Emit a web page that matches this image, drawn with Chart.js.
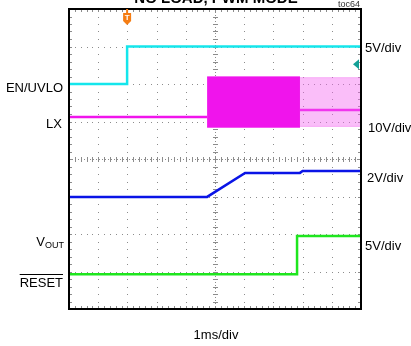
<!DOCTYPE html>
<html>
<head>
<meta charset="utf-8">
<script src="https://cdn.jsdelivr.net/npm/chart.js@4"></script>
<style>
  html, body { margin: 0; padding: 0; background: #fff; }
  #wrap { width: 411px; height: 346px; }
</style>
</head>
<body>
<div id="wrap"><canvas id="scope" width="411" height="346"></canvas></div>
<script>
// time axis: 1ms/div, 10 divisions; vertical: 8 divisions
const xDivs = [0, 10];
const yDivs = [0, 8];

// EN/UVLO (cyan)
const enTime = [0, 1.99, 1.99, 10];
const enLevel = [6.0, 6.0, 7.0, 7.0];

// LX (magenta) baseline before and after the burst
const lxTime = [0, 4.73];
const lxLevel = [5.12, 5.12];
const lxTailTime = [7.91, 10];
const lxTailLevel = [5.31, 5.31];
// LX switching envelopes
const burstTime = [4.73, 7.91];
const burstHigh = [6.19, 6.19];
const burstLow = [4.85, 4.85];
const tailHigh = [6.17, 6.17];
const tailLow = [4.87, 4.87];

// soft-start ramp (blue)
const rampTime = [0, 4.73, 6.03, 7.91, 8.0, 10];
const rampLevel = [2.99, 2.99, 3.63, 3.63, 3.68, 3.68];

// VOUT / RESET (green)
const resetTime = [0, 7.81, 7.81, 10];
const resetLevel = [0.93, 0.93, 1.95, 1.95];

// markers
const triggerTime = 1.99;
const triggerLevel = 6.53;

const colors = {
    cyan: '#14e6ec',
    magenta: '#f014ec',
    magentaLight: 'rgba(244, 100, 240, 0.42)',
    blue: '#0a14e6',
    green: '#1ee61e',
    grid: '#8c8c8c',
    orange: '#f57d14',
    teal: '#14a096'
};

const pts = (xs, ys) => xs.map((x, i) => ({ x: x, y: ys[i] }));

const trace = (data, color, width) => ({
    data: data,
    borderColor: color,
    backgroundColor: color,
    borderWidth: width,
    pointRadius: 0,
    tension: 0,
    fill: false
});

const scopeDecor = {
    id: 'scopeDecor',
    beforeDatasetsDraw(chart) {
        const { ctx, chartArea: a, scales: { x, y } } = chart;
        ctx.save();
        ctx.fillStyle = colors.grid;
        // dotted graticule
        for (let i = 1; i < 10; i++) {
            const px = Math.round(x.getPixelForValue(i));
            for (let t = 0; t <= 40; t++) {
                const py = y.getPixelForValue(t / 5);
                ctx.fillRect(px, Math.round(py), 1, 1);
            }
        }
        for (let j = 1; j < 8; j++) {
            const py = Math.round(y.getPixelForValue(j));
            for (let t = 0; t <= 50; t++) {
                const px = x.getPixelForValue(t / 5);
                ctx.fillRect(Math.round(px), py, 1, 1);
            }
        }
        // centre axes with minor ticks
        const cx = Math.round(x.getPixelForValue(5));
        const cy = Math.round(y.getPixelForValue(4));
        for (let t = 0; t <= 40; t++) {
            const py = Math.round(y.getPixelForValue(t / 5));
            ctx.fillRect(cx - 2, py, 5, 1);
            ctx.fillRect(a.left, py, 3, 1);
            ctx.fillRect(a.right - 3, py, 3, 1);
        }
        for (let t = 0; t <= 50; t++) {
            const px = Math.round(x.getPixelForValue(t / 5));
            ctx.fillRect(px, cy - 2, 1, 5);
            ctx.fillRect(px, a.top, 1, 3);
            ctx.fillRect(px, a.bottom - 3, 1, 3);
        }
        for (let px = a.left; px < a.right; px += 3) ctx.fillRect(px, cy, 1, 1);
        for (let py = a.top; py < a.bottom; py += 3) ctx.fillRect(cx, py, 1, 1);
        ctx.restore();
    },
    afterDraw(chart) {
        const { ctx, chartArea: a, scales: { x, y } } = chart;
        ctx.save();
        // frame
        ctx.strokeStyle = '#000';
        ctx.lineWidth = 2;
        ctx.strokeRect(a.left, a.top, a.right - a.left, a.bottom - a.top);

        // trigger marker
        const tx = x.getPixelForValue(triggerTime);
        ctx.fillStyle = colors.orange;
        ctx.fillRect(tx - 1, a.top, 2, 4);
        ctx.beginPath();
        ctx.moveTo(tx - 4, a.top + 4);
        ctx.lineTo(tx + 4, a.top + 4);
        ctx.lineTo(tx + 4, a.top + 12);
        ctx.lineTo(tx, a.top + 16);
        ctx.lineTo(tx - 4, a.top + 12);
        ctx.closePath();
        ctx.fill();
        ctx.fillStyle = '#fff';
        ctx.font = 'bold 8px "Liberation Sans", Arial, sans-serif';
        ctx.textAlign = 'center';
        ctx.textBaseline = 'middle';
        ctx.fillText('T', tx, a.top + 9);

        // trigger level arrow
        const ty = y.getPixelForValue(triggerLevel);
        ctx.fillStyle = colors.teal;
        ctx.beginPath();
        ctx.moveTo(a.right - 8, ty);
        ctx.lineTo(a.right - 2, ty - 5);
        ctx.lineTo(a.right - 2, ty + 5);
        ctx.closePath();
        ctx.fill();

        // title (clipped at the top edge)
        ctx.fillStyle = '#000';
        ctx.font = 'bold 15px "Liberation Sans", Arial, sans-serif';
        ctx.textAlign = 'center';
        ctx.textBaseline = 'alphabetic';
        ctx.fillText('NO LOAD, PWM MODE', 216, 3);

        ctx.font = '9px "Liberation Sans", Arial, sans-serif';
        ctx.fillStyle = '#333';
        ctx.textAlign = 'right';
        ctx.fillText('toc64', a.right - 1, 7);

        // channel names
        ctx.fillStyle = '#000';
        ctx.font = '13px "Liberation Sans", Arial, sans-serif';
        ctx.textAlign = 'right';
        ctx.textBaseline = 'middle';
        ctx.fillText('EN/UVLO', 63, 88);
        ctx.fillText('LX', 62, 124);
        ctx.fillText('RESET', 63, 283);
        const rw = ctx.measureText('RESET').width;
        ctx.fillRect(63 - rw, 274, rw, 1);
        ctx.font = '9px "Liberation Sans", Arial, sans-serif';
        ctx.fillText('OUT', 64, 246);
        const ow = ctx.measureText('OUT').width;
        ctx.font = '13px "Liberation Sans", Arial, sans-serif';
        ctx.fillText('V', 64 - ow, 242);

        // scale factors
        ctx.textAlign = 'left';
        ctx.fillText('5V/div', 365, 48);
        ctx.fillText('10V/div', 368, 128);
        ctx.fillText('2V/div', 367, 178);
        ctx.fillText('5V/div', 365, 246);

        ctx.textAlign = 'center';
        ctx.fillText('1ms/div', 216, 335);
        ctx.restore();
    }
};

new Chart(document.getElementById('scope'), {
    type: 'line',
    data: {
        datasets: [
            Object.assign(trace(pts(burstTime, burstHigh), colors.magenta, 1), { fill: '+1' }),
            trace(pts(burstTime, burstLow), colors.magenta, 1),
            Object.assign(trace(pts(lxTailTime, tailHigh), colors.magentaLight, 1), { fill: '+1', backgroundColor: colors.magentaLight }),
            trace(pts(lxTailTime, tailLow), colors.magentaLight, 1),
            trace(pts(lxTime, lxLevel), colors.magenta, 2.5),
            trace(pts(lxTailTime, lxTailLevel), colors.magenta, 2.5),
            trace(pts(enTime, enLevel), colors.cyan, 2.5),
            trace(pts(rampTime, rampLevel), colors.blue, 2.5),
            trace(pts(resetTime, resetLevel), colors.green, 2.5)
        ]
    },
    options: {
        responsive: false,
        animation: false,
        devicePixelRatio: 1,
        layout: { padding: { left: 69, right: 50, top: 9, bottom: 37 } },
        plugins: { legend: { display: false }, tooltip: { enabled: false } },
        scales: {
            x: { type: 'linear', min: xDivs[0], max: xDivs[1], display: false },
            y: { type: 'linear', min: yDivs[0], max: yDivs[1], display: false }
        }
    },
    plugins: [scopeDecor]
});
</script>
</body>
</html>
